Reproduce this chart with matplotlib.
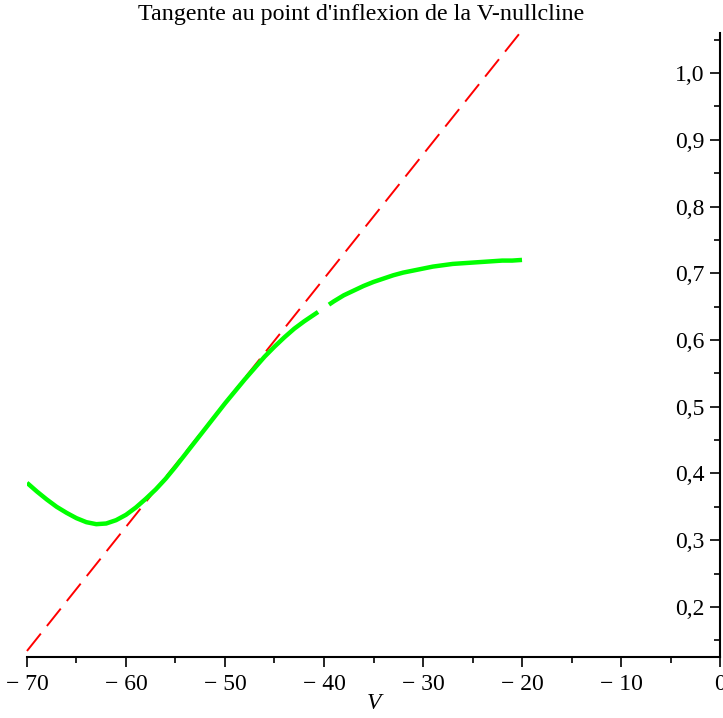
import numpy as np
import matplotlib
matplotlib.use('Agg')
from matplotlib import pyplot as plt
from matplotlib.ticker import FuncFormatter, MultipleLocator

plt.rcParams['font.family'] = ['Liberation Serif', 'DejaVu Serif']
plt.rcParams['lines.scale_dashes'] = False

# V-nullcline (NaN = the small break near V=-40)
v_null = [-70, -69, -68, -67, -66, -65, -64, -63, -62, -61, -60, -59, -58, -57,
          -56, -55, -54, -53, -52, -51, -50, -49, -48, -47, -46, -45, -44, -43,
          -42, -41, -40.6, np.nan, -39.5, -39, -38, -37, -36, -35, -34, -33, -32,
          -31, -30, -29, -28, -27, -26, -25, -24, -23, -22, -21, -20]
w_null = [0.386, 0.373, 0.361, 0.350, 0.341, 0.333, 0.327, 0.324, 0.325, 0.330,
          0.338, 0.349, 0.362, 0.376, 0.392, 0.410, 0.429, 0.448, 0.467, 0.486,
          0.505, 0.523, 0.541, 0.558, 0.575, 0.590, 0.604, 0.617, 0.628, 0.638,
          0.642, np.nan, 0.653, 0.658, 0.667, 0.674, 0.681, 0.687, 0.692, 0.697,
          0.701, 0.704, 0.707, 0.710, 0.712, 0.714, 0.715, 0.716, 0.717, 0.718,
          0.719, 0.719, 0.720]

# tangent at the inflection point
v_tan = [-70, -20]
w_tan = [0.134, 1.064]

fig = plt.figure(figsize=(7.23, 7.18), dpi=100)
ax = fig.add_axes([0.0373, 0.085, 0.9586, 0.869])

ax.plot(v_tan, w_tan, color='#ff0000', lw=1.4, dashes=(16, 7), clip_on=False)
ax.plot(v_null, w_null, color='#00ff00', lw=3.2, solid_capstyle='butt')

ax.set_xlim(-70, 0)
ax.set_ylim(0.125, 1.06)

ax.spines['top'].set_visible(False)
ax.spines['right'].set_visible(False)
ax.spines['left'].set_position(('data', 0))
ax.spines['left'].set_linewidth(1.5)
ax.spines['bottom'].set_linewidth(1.5)

ax.xaxis.set_major_locator(MultipleLocator(10))
ax.xaxis.set_minor_locator(MultipleLocator(5))
ax.yaxis.set_major_locator(MultipleLocator(0.1))
ax.yaxis.set_minor_locator(MultipleLocator(0.05))
ax.yaxis.set_major_formatter(FuncFormatter(lambda y, p: ('%.1f' % y).replace('.', ',')))
ax.xaxis.set_major_formatter(FuncFormatter(lambda x, p: ('%d' % x).replace('-', '\u2212 ')))

ax.tick_params(which='major', length=7, width=1.2, labelsize=17, direction='out')
ax.tick_params(which='minor', length=4, width=1.2, direction='out')
ax.tick_params(axis='x', pad=5)
ax.tick_params(axis='y', pad=4)

ax.set_xlabel('V', fontsize=17, style='italic', labelpad=-1)
fig.suptitle("Tangente au point d'inflexion de la V-nullcline", fontsize=17.3, y=0.994)

fig.savefig('out.png', dpi=100)
